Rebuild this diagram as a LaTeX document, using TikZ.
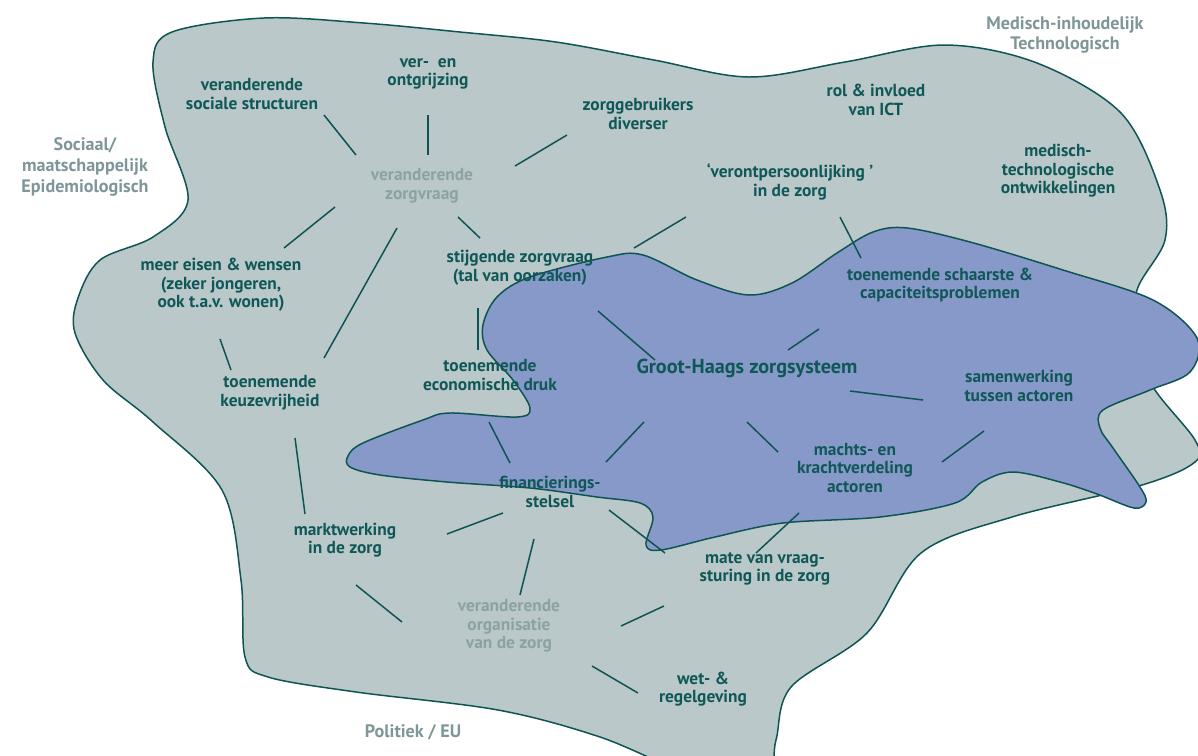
\documentclass[tikz,border=0pt]{standalone}
\usepackage{fontspec}
\setmainfont{PT Sans}
\usetikzlibrary{calc}

\definecolor{areagrey}{RGB}{186,200,201}
\definecolor{coreblue}{RGB}{135,153,200}
\definecolor{edgeteal}{RGB}{14,84,84}
\definecolor{labelteal}{RGB}{16,88,88}
\definecolor{softgrey}{RGB}{140,162,165}
\definecolor{fieldgrey}{RGB}{127,150,153}

\begin{document}
\begin{tikzpicture}[x=0.02cm, y=-0.02cm,
  blob/.style={draw=edgeteal, line width=0.85pt},
  txt/.style={align=center, inner sep=0pt, font=\fontsize{9.9}{10.6}\selectfont\bfseries, text=labelteal},
  soft/.style={txt, text=softgrey},
  field/.style={align=center, inner sep=0pt, font=\fontsize{10.3}{11.8}\selectfont\bfseries, text=fieldgrey},
  core/.style={txt, font=\fontsize{11.5}{13}\selectfont\bfseries},
  link/.style={edgeteal, line width=0.85pt},
]
\useasboundingbox (0,0) rectangle (1198,755);
\clip (0,0) rectangle (1198,755);

% Outer area
\draw[blob, fill=areagrey] plot[smooth cycle, tension=0.55] coordinates {
  (153,62) (172,32) (264,18) (364,23) (460,32) (556,42) (654,60) (749,77)
  (845,62) (945,45) (1037,63) (1121,113) (1160,190) (1165,240) (1137,290)
  (1135,340) (1153,387) (1195,440) (1195,462) (1142,485) (1012,517) (921,553)
  (867,633) (791,687) (776,740) (765,775) (695,775) (600,737) (498,710)
  (356,692) (268,677) (245,657) (241,580) (222,490) (153,422) (103,380)
  (75,333) (78,298) (100,260) (153,237) (188,200) (165,127)};

% Core area
\draw[blob, fill=coreblue] plot[smooth cycle, tension=0.55] coordinates {
  (530,277) (607,257) (643,255) (697,280) (749,295) (792,283) (837,253)
  (873,232) (907,228) (970,242) (1063,270) (1153,300) (1197,338) (1190,372)
  (1150,390) (1103,410) (1100,428) (1113,448) (1140,487) (1146,502) (1134,508)
  (1097,494) (1060,482) (1013,472) (982,482) (955,503) (880,517) (783,523)
  (715,537) (661,550) (646,545) (653,517) (640,503) (597,497) (530,488)
  (447,482) (380,475) (350,467) (348,456) (363,443) (423,420) (450,413)
  (517,417) (530,408) (513,380) (487,350) (483,325) (497,297)};

% Fields
\node[field] (catsoc) at (85,167) {Sociaal/\\maatschappelijk\\Epidemiologisch};
\node[field] (catmed) at (1065,35) {Medisch-inhoudelijk\\Technologisch};
\node[field] (catpol) at (413,732) {Politiek / EU};

% Factors
\node[txt] (sozstruc) at (252,94) {veranderende\\sociale structuren};
\node[txt] (vergrijz) at (428,74) {ver-\ \ en\\ontgrijzing};
\node[txt] (diverser) at (638,114) {zorggebruikers\\diverser};
\node[txt] (ict) at (876,100) {rol \& invloed\\van ICT};
\node[txt] (medtech) at (1058,171) {medisch-\\technologische\\ontwikkelingen};
\node[txt] (verontp) at (790,182) {‘verontpersoonlijking ’\\in de zorg};
\node[soft] (zorgvraag) at (422,186) {veranderende\\zorgvraag};
\node[txt] (eisen) at (221,285) {meer eisen \& wensen\\(zeker jongeren,\\ook t.a.v. wonen)};
\node[txt] (stijgend) at (520,268) {stijgende zorgvraag\\(tal van oorzaken)};
\node[txt] (schaarste) at (940,285) {toenemende schaarste \&\\capaciteitsproblemen};
\node[txt] (econ) at (490,375) {toenemende\\economische druk};
\node[core] (groot) at (747,368) {Groot-Haags zorgsysteem};
\node[txt] (samenw) at (1019,386) {samenwerking\\tussen actoren};
\node[txt] (keuze) at (270,393) {toenemende\\keuzevrijheid};
\node[txt] (macht) at (855,468) {machts- en\\krachtverdeling\\actoren};
\node[txt] (financ) at (550,492) {financierings-\\stelsel};
\node[txt] (markt) at (345,540) {marktwerking\\in de zorg};
\node[txt] (vraagst) at (765,569) {mate van vraag-\\sturing in de zorg};
\node[soft] (organis) at (509,626) {veranderende\\organisatie\\van de zorg};
\node[txt] (wet) at (703,689) {wet- \&\\regelgeving};

% Links
\draw[link] ($(sozstruc)+(72,21)$) -- ($(zorgvraag)+(-66,-31)$);
\draw[link] ($(vergrijz)+(0,41)$) -- ($(zorgvraag)+(6,-31)$);
\draw[link] ($(diverser)+(-71,21)$) -- ($(zorgvraag)+(93,-20)$);
\draw[link] ($(zorgvraag)+(-87,21)$) -- ($(eisen)+(63,-37)$);
\draw[link] ($(zorgvraag)+(-25,42)$) -- ($(keuze)+(54,-35)$);
\draw[link] ($(zorgvraag)+(36,31)$) -- ($(stijgend)+(-40,-30)$);
\draw[link] ($(eisen)+(-1,54)$) -- ($(keuze)+(-39,-23)$);
\draw[link] ($(stijgend)+(-42,40)$) -- ($(econ)+(-12,-25)$);
\draw[link] ($(verontp)+(-104,35)$) -- ($(stijgend)+(114,-20)$);
\draw[link] ($(verontp)+(50,35)$) -- ($(schaarste)+(-79,-27)$);
\draw[link] ($(schaarste)+(-121,44)$) -- ($(groot)+(41,-18)$);
\draw[link] ($(stijgend)+(78,43)$) -- ($(groot)+(-92,-8)$);
\draw[link] ($(econ)+(-1,47)$) -- ($(financ)+(-40,-29)$);
\draw[link] ($(groot)+(-103,54)$) -- ($(financ)+(56,-30)$);
\draw[link] ($(groot)+(0,54)$) -- ($(macht)+(-77,-16)$);
\draw[link] ($(groot)+(103,23)$) -- ($(samenw)+(-96,14)$);
\draw[link] ($(samenw)+(-35,45)$) -- ($(macht)+(87,-6)$);
\draw[link] ($(macht)+(-56,45)$) -- ($(vraagst)+(-9,-16)$);
\draw[link] ($(financ)+(59,18)$) -- ($(vraagst)+(-100,-16)$);
\draw[link] ($(financ)+(-47,21)$) -- ($(markt)+(102,-6)$);
\draw[link] ($(financ)+(-16,47)$) -- ($(organis)+(11,-31)$);
\draw[link] ($(keuze)+(25,45)$) -- ($(markt)+(-40,-26)$);
\draw[link] ($(markt)+(11,45)$) -- ($(organis)+(-107,-4)$);
\draw[link] ($(vraagst)+(-101,37)$) -- ($(organis)+(112,0)$);
\draw[link] ($(organis)+(83,40)$) -- ($(wet)+(-65,4)$);

\end{tikzpicture}
\end{document}
